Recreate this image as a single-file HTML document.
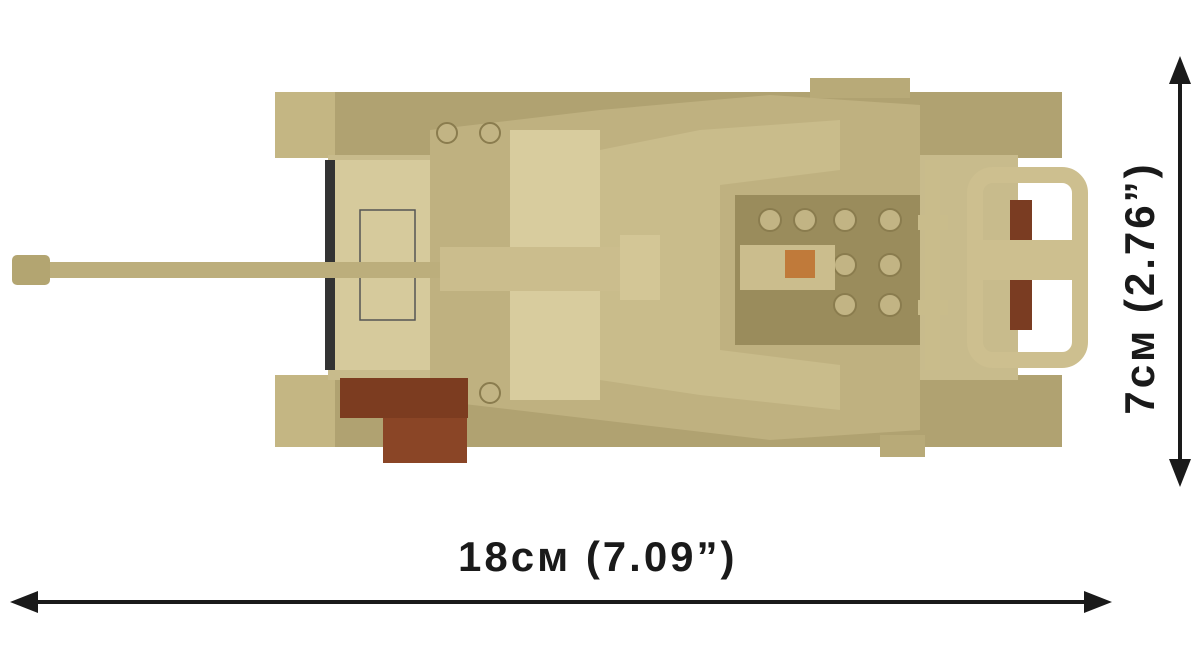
<!DOCTYPE html>
<html><head><style>
body{margin:0;background:#fff;width:1200px;height:649px;overflow:hidden}
.t{font-family:"Liberation Sans",sans-serif;font-weight:bold;color:#1a1a1a;position:absolute;white-space:nowrap}
</style></head><body>
<svg width="1200" height="649" style="position:absolute;left:0;top:0">
<rect x="275" y="92" width="787" height="66" fill="#b0a271"/>
<rect x="275" y="375" width="787" height="72" fill="#b0a271"/>
<rect x="275" y="92" width="60" height="66" fill="#c4b683"/>
<rect x="275" y="375" width="60" height="72" fill="#c4b683"/>
<rect x="810" y="78" width="100" height="20" fill="#b8aa78"/>
<rect x="328" y="155" width="690" height="225" fill="#c8bb8c"/>
<rect x="325" y="160" width="10" height="210" fill="#333"/>
<rect x="335" y="160" width="100" height="210" fill="#d6ca9c"/>
<rect x="360" y="210" width="55" height="110" fill="none" stroke="#555" stroke-width="1.5"/>
<polygon points="430,130 600,110 770,95 920,105 920,430 770,440 600,420 430,400" fill="#bfb180"/>
<polygon points="510,130 600,130 600,400 510,400" fill="#d8cc9e"/>
<polygon points="600,150 700,130 840,120 840,170 720,185 720,350 840,365 840,410 700,395 600,380" fill="#c9bc8b"/>
<rect x="735" y="195" width="185" height="150" fill="#9a8c5c"/>
<g fill="#c2b484" stroke="#8a7c4e" stroke-width="2">
<circle cx="770" cy="220" r="11"/><circle cx="805" cy="220" r="11"/><circle cx="845" cy="220" r="11"/><circle cx="890" cy="220" r="11"/>
<circle cx="845" cy="265" r="11"/><circle cx="890" cy="265" r="11"/>
<circle cx="845" cy="305" r="11"/><circle cx="890" cy="305" r="11"/>
<circle cx="447" cy="133" r="10"/><circle cx="490" cy="133" r="10"/><circle cx="490" cy="393" r="10"/>
</g>
<rect x="740" y="245" width="95" height="45" fill="#cbbd8d"/>
<rect x="785" y="250" width="30" height="28" fill="#c07a3a"/>
<rect x="925" y="160" width="15" height="210" fill="#c9bc8b"/>
<rect x="918" y="215" width="30" height="15" fill="#c9bc8b"/>
<rect x="918" y="300" width="30" height="15" fill="#c9bc8b"/>
<rect x="975" y="175" width="105" height="185" rx="18" fill="none" stroke="#cdbf8f" stroke-width="16"/>
<rect x="1010" y="200" width="22" height="130" fill="#7a3c22"/>
<rect x="975" y="240" width="105" height="40" fill="#cdbf8f"/>
<rect x="340" y="378" width="128" height="40" fill="#7c3c20"/>
<rect x="383" y="418" width="84" height="45" fill="#8a4526"/>
<rect x="880" y="435" width="45" height="22" fill="#b8aa78"/>
<rect x="20" y="262" width="440" height="16" fill="#bcae7c"/>
<rect x="12" y="255" width="38" height="30" rx="5" fill="#b3a571"/>
<rect x="440" y="247" width="220" height="44" fill="#cbbd8d"/>
<rect x="620" y="235" width="40" height="65" fill="#d3c696"/>
<line x1="22" y1="602" x2="1098" y2="602" stroke="#1a1a1a" stroke-width="4"/>
<polygon points="10,602 38,591 38,613" fill="#1a1a1a"/>
<polygon points="1112,602 1084,591 1084,613" fill="#1a1a1a"/>
<line x1="1180" y1="70" x2="1180" y2="474" stroke="#1a1a1a" stroke-width="4"/>
<polygon points="1180,56 1169,84 1191,84" fill="#1a1a1a"/>
<polygon points="1180,487 1169,459 1191,459" fill="#1a1a1a"/>
</svg>
<div class="t" style="left:458px;top:533px;font-size:42px;letter-spacing:3px">18см (7.09”)</div>
<div class="t" style="left:1140px;top:288px;font-size:42px;letter-spacing:3px;transform:translate(-50%,-50%) rotate(-90deg)">7см (2.76”)</div>
</body></html>
